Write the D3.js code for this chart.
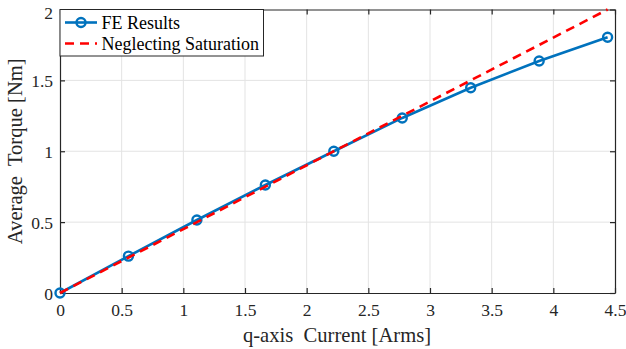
<!DOCTYPE html>
<html>
<head>
<meta charset="utf-8">
<script src="https://cdn.jsdelivr.net/npm/d3@7"></script>
<style>
body{margin:0;background:#fff;}
svg{display:block;}
</style>
</head>
<body>
<svg id="chart" width="626" height="349" font-family="Liberation Serif, Times New Roman, Times, DejaVu Serif, serif"></svg>
<script>
const currentFE = [0, 0.555, 1.11, 1.665, 2.22, 2.775, 3.33, 3.885, 4.44];
const torqueFE = [0, 0.26, 0.515, 0.762, 1.0, 1.235, 1.448, 1.637, 1.804];
const currentLin = [0, 4.44];
const torqueLin = [0, 2.0];
const xTicks = [0, 0.5, 1, 1.5, 2, 2.5, 3, 3.5, 4, 4.5];
const yTicks = [0, 0.5, 1, 1.5, 2];
const xLabel = "q-axis  Current [Arms]";
const yLabel = "Average  Torque [Nm]";
const legendLabels = ["FE Results", "Neglecting Saturation"];

const FONT = "Liberation Serif, Times New Roman, Times, DejaVu Serif, serif";
const svg = d3.select("#chart");
const L = 60, R = 615, T = 9.5, B = 293;
const x = d3.scaleLinear().domain([0, 4.5]).range([L, R]);
const y = d3.scaleLinear().domain([0, 2]).range([B, T]);

// grid
const g = svg.append("g");
g.selectAll(".gx").data(xTicks.slice(1, -1)).enter().append("line")
  .attr("x1", d => x(d)).attr("x2", d => x(d)).attr("y1", T).attr("y2", B)
  .attr("stroke", "#e3e3e3").attr("stroke-width", 1);
g.selectAll(".gy").data(yTicks.slice(1, -1)).enter().append("line")
  .attr("y1", d => y(d)).attr("y2", d => y(d)).attr("x1", L).attr("x2", R)
  .attr("stroke", "#e3e3e3").attr("stroke-width", 1);

// axes
const fmt = d => d3.format("")(d);
const ax = svg.append("g").attr("transform", `translate(0,${B})`)
  .call(d3.axisBottom(x).tickValues(xTicks).tickFormat(fmt).tickSizeInner(-5).tickSizeOuter(0).tickPadding(11));
const axT = svg.append("g").attr("transform", `translate(0,${T})`)
  .call(d3.axisTop(x).tickValues(xTicks).tickFormat("").tickSizeInner(-5).tickSizeOuter(0));
const ay = svg.append("g").attr("transform", `translate(${L},0)`)
  .call(d3.axisLeft(y).tickValues(yTicks).tickFormat(fmt).tickSizeInner(-5).tickSizeOuter(0).tickPadding(7));
const ayR = svg.append("g").attr("transform", `translate(${R},0)`)
  .call(d3.axisRight(y).tickValues(yTicks).tickFormat("").tickSizeInner(-5).tickSizeOuter(0));
[ax, axT, ay, ayR].forEach(a => {
  a.attr("font-family", FONT).attr("font-size", 17.5);
  a.selectAll("path").attr("stroke", "#262626").attr("stroke-width", 1.2);
  a.selectAll("line").attr("stroke", "#262626").attr("stroke-width", 1.2);
  a.selectAll("text").attr("fill", "#262626")
    .style("font-family", FONT).style("font-size", "17.5px");
});
ay.selectAll("text").attr("dy", "0.35em");
ay.selectAll(".tick").filter(d => d === 2).select("text").attr("dy", "0.5em");

// lines
const line = d3.line().x(d => x(d[0])).y(d => y(d[1]));
const feData = currentFE.map((c, i) => [c, torqueFE[i]]);
const linData = currentLin.map((c, i) => [c, torqueLin[i]]);

svg.append("path").datum(feData).attr("d", line)
  .attr("fill", "none").attr("stroke", "#0072BD").attr("stroke-width", 2.6);
svg.selectAll(".mk").data(feData).enter().append("circle")
  .attr("cx", d => x(d[0])).attr("cy", d => y(d[1])).attr("r", 4.5)
  .attr("fill", "none").attr("stroke", "#0072BD").attr("stroke-width", 2.4);
svg.append("path").datum(linData).attr("d", line)
  .attr("fill", "none").attr("stroke", "#FF0000").attr("stroke-width", 2.6)
  .attr("stroke-dasharray", "9,6");

// legend
const lg = svg.append("g").attr("font-family", FONT).attr("font-size", 18);
lg.append("rect").attr("x", L).attr("y", T).attr("width", 203.5).attr("height", 46.5)
  .attr("fill", "#fff").attr("stroke", "#262626").attr("stroke-width", 1);
lg.append("line").attr("x1", 65).attr("x2", 97).attr("y1", 22.5).attr("y2", 22.5)
  .attr("stroke", "#0072BD").attr("stroke-width", 2.6);
lg.append("circle").attr("cx", 81).attr("cy", 22.5).attr("r", 4.5)
  .attr("fill", "none").attr("stroke", "#0072BD").attr("stroke-width", 2.4);
lg.append("line").attr("x1", 65).attr("x2", 97).attr("y1", 43.5).attr("y2", 43.5)
  .attr("stroke", "#FF0000").attr("stroke-width", 2.6).attr("stroke-dasharray", "9,6");
lg.append("text").attr("x", 101.5).attr("y", 28.5).text(legendLabels[0]).attr("fill", "#000");
lg.append("text").attr("x", 101.5).attr("y", 49.5).text(legendLabels[1]).attr("fill", "#000");

// axis labels
svg.append("text").attr("x", 337).attr("y", 341.5).attr("text-anchor", "middle")
  .attr("font-family", FONT).attr("font-size", 20.6).attr("fill", "#262626")
  .attr("xml:space", "preserve").style("white-space", "pre").text(xLabel);
svg.append("text").attr("transform", `translate(22,${(T + B) / 2}) rotate(-90)`)
  .attr("text-anchor", "middle").attr("font-family", FONT).attr("font-size", 20.6).attr("fill", "#262626")
  .attr("xml:space", "preserve").style("white-space", "pre").text(yLabel);
</script>
</body>
</html>
